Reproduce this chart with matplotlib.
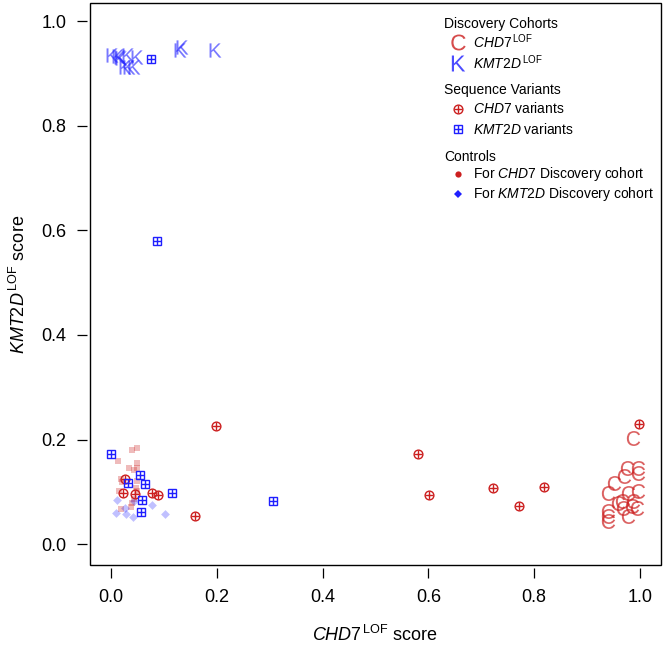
import matplotlib
matplotlib.use("Agg")
import matplotlib.pyplot as plt
from matplotlib.patches import Rectangle

plt.rcParams["font.family"] = ["Liberation Sans", "DejaVu Sans"]
plt.rcParams["mathtext.fontset"] = "custom"
plt.rcParams["mathtext.rm"] = "Liberation Sans"
plt.rcParams["mathtext.it"] = "Liberation Sans:italic"
plt.rcParams["mathtext.bf"] = "Liberation Sans:bold"

# discovery cohorts (plotted as letters)
chd7_lof_x = [0.987, 0.975, 0.996, 0.996, 0.970, 0.951, 0.939, 0.977, 0.996, 0.966,
              0.987, 0.985, 0.994, 0.968, 0.939, 0.939, 0.939, 0.977, 0.958]
chd7_lof_y = [0.203, 0.145, 0.145, 0.136, 0.130, 0.117, 0.098, 0.098, 0.101, 0.082,
              0.082, 0.073, 0.069, 0.069, 0.063, 0.054, 0.044, 0.054, 0.078]
kmt2d_lof_x = [0.002, 0.013, 0.017, 0.019, 0.027, 0.034, 0.044, 0.032, 0.049, 0.131, 0.134, 0.197]
kmt2d_lof_y = [0.935, 0.933, 0.931, 0.929, 0.912, 0.912, 0.912, 0.935, 0.931, 0.945, 0.950, 0.946]

# sequence variants
chd7_var_x = [0.027, 0.023, 0.045, 0.078, 0.089, 0.159, 0.199, 0.581, 0.602, 0.722, 0.771, 0.818, 0.998]
chd7_var_y = [0.124, 0.098, 0.096, 0.098, 0.094, 0.054, 0.226, 0.172, 0.094, 0.107, 0.073, 0.109, 0.229]
kmt2d_var_x = [0.000, 0.032, 0.055, 0.064, 0.059, 0.057, 0.116, 0.307, 0.087, 0.076]
kmt2d_var_y = [0.172, 0.117, 0.132, 0.115, 0.084, 0.061, 0.098, 0.082, 0.579, 0.927]

# controls
ctrl_chd7_x = [0.049, 0.040, 0.013, 0.049, 0.034, 0.044, 0.049, 0.019, 0.021, 0.049,
               0.015, 0.047, 0.049, 0.044, 0.040, 0.038, 0.019]
ctrl_chd7_y = [0.184, 0.180, 0.159, 0.155, 0.145, 0.141, 0.145, 0.124, 0.119, 0.120,
               0.101, 0.107, 0.101, 0.086, 0.078, 0.071, 0.067]
ctrl_kmt2d_x = [0.011, 0.027, 0.009, 0.028, 0.042, 0.078, 0.102, 0.044]
ctrl_kmt2d_y = [0.084, 0.069, 0.059, 0.057, 0.052, 0.075, 0.057, 0.082]

ticks = [0.0, 0.2, 0.4, 0.6, 0.8, 1.0]
tick_labels = ["0.0", "0.2", "0.4", "0.6", "0.8", "1.0"]

RED = "#cc1f1f"
BLUE = "#1f1fff"

fig = plt.figure(figsize=(6.64, 6.48), dpi=100)
ax = fig.add_axes([90 / 664, 83 / 648, 571 / 664, 562 / 648])

ax.scatter(ctrl_chd7_x, ctrl_chd7_y, marker="s", s=20, color=RED, alpha=0.3, linewidths=0)
ax.scatter(ctrl_kmt2d_x, ctrl_kmt2d_y, marker="D", s=20, color=BLUE, alpha=0.28, linewidths=0)

ax.scatter(chd7_lof_x, chd7_lof_y, marker=r"$\mathrm{C}$", s=115, color=RED, alpha=0.7, linewidths=0)
ax.scatter(kmt2d_lof_x, kmt2d_lof_y, marker=r"$\mathrm{K}$", s=105, color=BLUE, alpha=0.6, linewidths=0)

ax.plot(chd7_var_x, chd7_var_y, "o", ms=6.3, mfc="none", mec=RED, mew=1.0, ls="none")
ax.plot(chd7_var_x, chd7_var_y, "+", ms=6.3, mec=RED, mew=1.0, ls="none")
ax.plot(kmt2d_var_x, kmt2d_var_y, "s", ms=6.0, mfc="none", mec=BLUE, mew=1.0, ls="none")
ax.plot(kmt2d_var_x, kmt2d_var_y, "+", ms=6.0, mec=BLUE, mew=1.0, ls="none")

ax.set_xlim(-0.04, 1.04)
ax.set_ylim(-0.04, 1.035)
ax.set_xticks(ticks)
ax.set_xticklabels(tick_labels)
ax.set_yticks(ticks)
ax.set_yticklabels(tick_labels, rotation=90, va="center")
for s in ["top", "right"]:
    ax.spines[s].set_visible(False)
for s in ["bottom", "left"]:
    ax.spines[s].set_position(("outward", 2))
    ax.spines[s].set_color("none")
ax.add_patch(Rectangle((0, 0), 1, 1, transform=ax.transAxes, fill=False, lw=1.0,
                       ec="black", clip_on=False, zorder=5))
ax.tick_params(direction="out", length=7, width=0.9, labelsize=13, pad=8)

ax.set_xlabel(r"$\mathit{CHD7}^{\,\mathrm{LOF}}$ score", fontsize=13, labelpad=14)
ax.set_ylabel(r"$\mathit{KMT2D}^{\,\mathrm{LOF}}$ score", fontsize=13, labelpad=9)

# legend, drawn by hand in axes fractions
def ax_pos(px, py):
    return (px - 90) / 571, (565 - py) / 562

lx_head, lx_mark, lx_text = 444, 458, 473
head_kw = dict(transform=ax.transAxes, fontsize=10, va="center", ha="left")
for label, py in [("Discovery Cohorts", 24), ("Sequence Variants", 90), ("Controls", 157)]:
    ax.text(*ax_pos(lx_head, py), label, **head_kw)

items = [
    (42, r"$\mathit{CHD7}^{\,\mathrm{LOF}}$", dict(marker=r"$\mathrm{C}$", ms=11.5, color=RED, alpha=0.8, mew=0)),
    (63, r"$\mathit{KMT2D}^{\,\mathrm{LOF}}$", dict(marker=r"$\mathrm{K}$", ms=11.5, color=BLUE, alpha=0.8, mew=0)),
    (109, r"$\mathit{CHD7}$ variants", dict(marker="o", ms=6.3, mfc="none", mec=RED, mew=1.0)),
    (129, r"$\mathit{KMT2D}$ variants", dict(marker="s", ms=6.0, mfc="none", mec=BLUE, mew=1.0)),
    (174, r"For $\mathit{CHD7}$ Discovery cohort", dict(marker="o", ms=4.5, color=RED, mew=0)),
    (194, r"For $\mathit{KMT2D}$ Discovery cohort", dict(marker="D", ms=4.0, color=BLUE, mew=0)),
]
for py, label, style in items:
    mx, my = ax_pos(lx_mark, py)
    ax.plot([mx], [my], transform=ax.transAxes, clip_on=False, ls="none", **style)
    if style["marker"] in ("o", "s") and style.get("mfc") == "none":
        ax.plot([mx], [my], "+", ms=style["ms"], mec=style["mec"], mew=1.0,
                transform=ax.transAxes, clip_on=False)
    ax.text(*ax_pos(lx_text, py), label, **head_kw)

fig.savefig("out.png", dpi=100)
